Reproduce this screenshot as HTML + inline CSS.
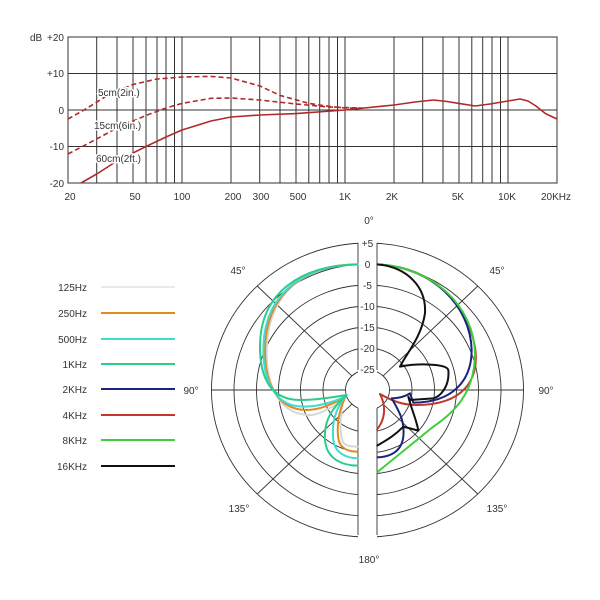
<!DOCTYPE html>
<html><head><meta charset="utf-8"><style>
html,body{margin:0;padding:0;background:#fff;}
svg{display:block;font-family:"Liberation Sans",sans-serif;}
</style></head><body>
<svg width="600" height="600" viewBox="0 0 600 600">
<rect width="600" height="600" fill="#fff"/>
<g stroke="#333" stroke-width="1" fill="none">
<rect x="68" y="37" width="489" height="146"/>
<line x1="68" y1="73.5" x2="557" y2="73.5"/>
<line x1="68" y1="110" x2="557" y2="110"/>
<line x1="68" y1="146.5" x2="557" y2="146.5"/>
<g>
<line x1="96.7" y1="37" x2="96.7" y2="183"/><line x1="117" y1="37" x2="117" y2="183"/><line x1="133" y1="37" x2="133" y2="183"/><line x1="146" y1="37" x2="146" y2="183"/><line x1="157" y1="37" x2="157" y2="183"/><line x1="166" y1="37" x2="166" y2="183"/><line x1="174.5" y1="37" x2="174.5" y2="183"/><line x1="182" y1="37" x2="182" y2="183"/>
<line x1="231" y1="37" x2="231" y2="183"/><line x1="259.7" y1="37" x2="259.7" y2="183"/><line x1="280" y1="37" x2="280" y2="183"/><line x1="296" y1="37" x2="296" y2="183"/><line x1="308.8" y1="37" x2="308.8" y2="183"/><line x1="319.7" y1="37" x2="319.7" y2="183"/><line x1="329" y1="37" x2="329" y2="183"/><line x1="337.5" y1="37" x2="337.5" y2="183"/><line x1="345" y1="37" x2="345" y2="183"/>
<line x1="394" y1="37" x2="394" y2="183"/><line x1="422.7" y1="37" x2="422.7" y2="183"/><line x1="443" y1="37" x2="443" y2="183"/><line x1="459" y1="37" x2="459" y2="183"/><line x1="471.8" y1="37" x2="471.8" y2="183"/><line x1="482.7" y1="37" x2="482.7" y2="183"/><line x1="492" y1="37" x2="492" y2="183"/><line x1="500.5" y1="37" x2="500.5" y2="183"/><line x1="508" y1="37" x2="508" y2="183"/>
</g>
</g>
<g fill="#333" font-size="10">
<text x="30" y="41">dB</text>
<text x="64" y="41" text-anchor="end">+20</text>
<text x="64" y="77" text-anchor="end">+10</text>
<text x="64" y="114" text-anchor="end">0</text>
<text x="64" y="150" text-anchor="end">-10</text>
<text x="64" y="187" text-anchor="end">-20</text>
<g text-anchor="middle">
<text x="70" y="200">20</text><text x="135" y="200">50</text><text x="182" y="200">100</text><text x="233" y="200">200</text><text x="261" y="200">300</text><text x="298" y="200">500</text><text x="345" y="200">1K</text><text x="392" y="200">2K</text><text x="458" y="200">5K</text><text x="507" y="200">10K</text><text x="556" y="200">20KHz</text>
</g>
</g>
<g fill="none" stroke="#b02a2a" stroke-width="1.6" stroke-linejoin="round">
<polyline points="81,183 96.7,174 117,161 146,146.5 166,137 182,130 211,121 231,117 260,115 296,113.6 345,110 394,105 415,102 433.6,100 447,101.5 459,103.4 475,106 490,104 508,101 520,99 528,101 536,106 545.5,113.6 557,119"/>
<polyline stroke-dasharray="5,3" points="68,119 84,110 107.6,95.4 133,84.5 157,79 182,77 211,76.4 231,78 260,86 280,95.4 309,103.4 329,106.4 345,108 364,108"/>
<polyline stroke-dasharray="5,3" points="68,154 96.7,139 117,128 146,115.5 166,108 182,103.4 211,98.3 231,98 260,100 296,104 329,107 358,108"/>
</g>
<g fill="#333" font-size="10" stroke="#fff" stroke-width="3" paint-order="stroke">
<text x="98" y="96">5cm(2in.)</text>
<text x="94" y="129">15cm(6in.)</text>
<text x="96" y="162">60cm(2ft.)</text>
</g>
<defs><clipPath id="cp"><rect x="0" y="0" width="358" height="600"/><rect x="377" y="0" width="223" height="600"/></clipPath></defs>
<g stroke="#333" stroke-width="0.9" fill="none" clip-path="url(#cp)">
<ellipse cx="367.5" cy="390" rx="156" ry="147"/>
<ellipse cx="367.5" cy="390" rx="133.5" ry="126"/>
<ellipse cx="367.5" cy="390" rx="111" ry="105"/>
<ellipse cx="367.5" cy="390" rx="89" ry="84"/>
<ellipse cx="367.5" cy="390" rx="67" ry="63"/>
<ellipse cx="367.5" cy="390" rx="44.5" ry="42"/>
<ellipse cx="367.5" cy="390" rx="22" ry="20"/>
<line x1="211.5" y1="390" x2="345.5" y2="390"/>
<line x1="389.5" y1="390" x2="523.5" y2="390"/>
<line x1="351.9" y1="375.9" x2="257.2" y2="286"/>
<line x1="383.1" y1="375.9" x2="477.8" y2="286"/>
<line x1="351.9" y1="404.1" x2="257.2" y2="494"/>
<line x1="383.1" y1="404.1" x2="477.8" y2="494"/>
</g>
<g stroke="#333" stroke-width="0.9">
<line x1="358" y1="243" x2="358" y2="370"/><line x1="377" y1="243" x2="377" y2="370"/>
<line x1="358" y1="408" x2="358" y2="535"/><line x1="377" y1="408" x2="377" y2="535"/>
</g>
<g fill="#333" font-size="10" text-anchor="middle">
<text x="367.5" y="247">+5</text><text x="367.5" y="268">0</text><text x="367.5" y="289">-5</text><text x="367.5" y="310">-10</text><text x="367.5" y="331">-15</text><text x="367.5" y="352">-20</text><text x="367.5" y="373">-25</text>
<text x="369" y="224">0°</text>
<text x="238" y="274">45°</text><text x="497" y="274">45°</text>
<text x="191" y="394">90°</text><text x="546" y="394">90°</text>
<text x="239" y="512">135°</text><text x="497" y="512">135°</text>
<text x="369" y="563">180°</text>
</g>
<g fill="none" stroke-width="6" transform="translate(200,220) scale(0.3333)" stroke-linejoin="round">
<path stroke="#d6d6d6" d="M475,133 C300,135 200,230 200,400 C200,500 240,585 330,585 C360,585 400,560 432,538 C420,580 420,630 425,655 C430,680 450,680 475,680"/>
<path stroke="#e08a20" d="M475,133 C300,135 195,230 195,395 C195,495 235,570 320,570 C360,570 400,550 435,533 C415,575 410,620 415,655 C420,690 450,695 475,695"/>
<path stroke="#40dcd4" d="M475,133 C300,135 190,230 190,390 C190,490 230,560 310,560 C360,560 400,545 435,530 C405,570 395,610 400,660 C405,700 440,715 475,715"/>
<path stroke="#2ecc8a" d="M475,133 C300,135 180,220 180,380 C180,470 210,540 300,540 C360,540 405,530 440,525 C400,560 370,600 375,660 C380,720 430,737 475,737"/>
<path stroke="#c0392b" d="M530,133 C700,140 800,250 825,380 C840,480 790,555 650,555 C610,555 580,545 540,522 C560,560 555,600 530,630"/>
<path stroke="#1a237e" d="M530,133 C700,140 812,260 815,390 C815,480 760,548 640,548 L630,520 C615,530 595,535 575,535 C595,570 615,600 610,650 C605,695 570,712 530,712"/>
<path stroke="#3ecf3e" d="M530,133 C700,140 822,260 825,400 C825,520 760,580 700,620 L530,758"/>
<path stroke="#111" d="M530,133 C620,140 680,200 675,280 C665,350 620,400 600,440 C650,430 740,430 745,450 C750,500 720,530 700,535 L630,540 L625,530 C635,570 650,600 655,632 L610,620 C580,650 560,660 530,678"/>
</g>
<g font-size="10" fill="#333" text-anchor="end">
<text x="87" y="291">125Hz</text><text x="87" y="317">250Hz</text><text x="87" y="343">500Hz</text><text x="87" y="368">1KHz</text><text x="87" y="393">2KHz</text><text x="87" y="419">4KHz</text><text x="87" y="444">8KHz</text><text x="87" y="470">16KHz</text>
</g>
<g stroke-width="2">
<line x1="101" y1="287" x2="175" y2="287" stroke="#d6d6d6" stroke-width="1"/>
<line x1="101" y1="313" x2="175" y2="313" stroke="#e08a20"/>
<line x1="101" y1="339" x2="175" y2="339" stroke="#40dcd4"/>
<line x1="101" y1="364" x2="175" y2="364" stroke="#2ecc8a"/>
<line x1="101" y1="389" x2="175" y2="389" stroke="#1a237e"/>
<line x1="101" y1="415" x2="175" y2="415" stroke="#c0392b"/>
<line x1="101" y1="440" x2="175" y2="440" stroke="#3ecf3e"/>
<line x1="101" y1="466" x2="175" y2="466" stroke="#111"/>
</g>
</svg>
</body></html>
